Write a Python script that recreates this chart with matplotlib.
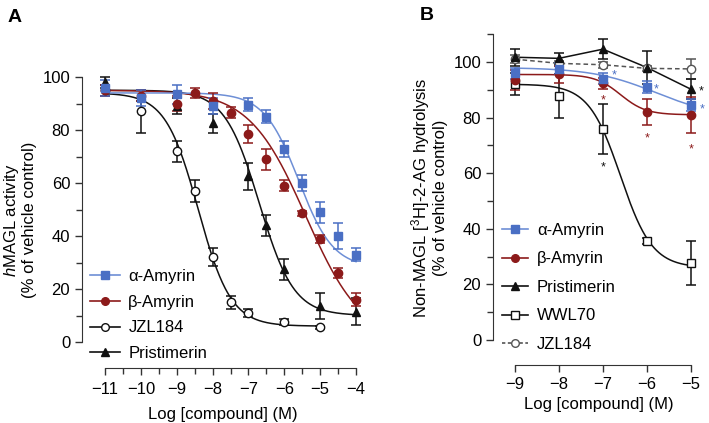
import numpy as np
import matplotlib
matplotlib.use("Agg")
import matplotlib.pyplot as plt
from matplotlib.lines import Line2D

plt.rcParams["font.family"] = ["Liberation Sans", "DejaVu Sans"]
plt.rcParams["mathtext.fontset"] = "custom"
plt.rcParams["mathtext.rm"] = "Liberation Sans"
plt.rcParams["mathtext.it"] = "Liberation Sans:italic"

BLUE = "#4a6fc4"
BLUE_LINE = "#6e8fd6"
RED = "#8c1a1a"
BLACK = "#111111"
GREY = "#555555"
AXIS = "#333333"
FS = 12

# ---- Panel A: hMAGL activity ----
a_alpha_x = [-11, -10, -9, -8, -7, -6.5, -6, -5.5, -5, -4.5, -4]
a_alpha_y = [96, 92, 93.5, 89, 89.5, 85, 73, 60, 49, 40, 33]
a_alpha_err = [3, 3, 3.5, 3, 2.5, 2.5, 3, 3, 4, 5, 2.5]

a_beta_x = [-11, -10, -9, -8.5, -8, -7.5, -7, -6.5, -6, -5.5, -5, -4.5, -4]
a_beta_y = [95, 93, 90, 94, 91, 86.5, 78.5, 69, 59, 48.5, 39, 26, 16]
a_beta_err = [2, 2, 3, 2, 3, 2, 3.5, 4, 2, 1, 1.5, 2, 2.5]

a_jzl_x = [-11, -10, -9, -8.5, -8, -7.5, -7, -6, -5]
a_jzl_y = [95, 87, 72, 57, 32, 15, 11, 7.5, 5.5]
a_jzl_err = [2, 8, 4, 4, 3.5, 2.5, 1.5, 1, 0.5]

a_pri_x = [-11, -10, -9, -8, -7, -6.5, -6, -5, -4]
a_pri_y = [98, 93, 89, 82.5, 62.5, 44, 27.5, 13.5, 11.5]
a_pri_err = [2, 2, 3, 3.5, 5, 4, 4, 5, 5]

# fitted curve parameters: top, bottom, logIC50, hill, x-range
a_alpha_fit = (94, 28, -5.6, 0.9, -11, -4)
a_beta_fit = (95, 0, -5.4, 0.55, -11, -4)
a_jzl_fit = (94, 6, -8.4, 0.95, -11, -5)
a_pri_fit = (95, 10, -6.7, 0.9, -11, -4)

# ---- Panel B: non-MAGL hydrolysis ----
b_x = [-9, -8, -7, -6, -5]
b_alpha_y = [96, 97.5, 94, 91, 84.5]
b_alpha_err = [2, 2, 2, 2, 2]
b_beta_y = [93.5, 95.5, 92.3, 82, 81]
b_beta_err = [3.5, 3, 2, 4.5, 6.5]
b_pri_y = [101.7, 101.3, 104.6, 98, 90.2]
b_pri_err = [3, 2, 3.5, 6, 3.5]
b_jzl_y = [101, 99.5, 99, 97.7, 97.5]
b_jzl_err = [1.5, 1, 1, 1, 3.5]
b_wwl_y = [92, 87.8, 75.8, 35.7, 27.6]
b_wwl_err = [4, 8, 9, 1, 8]

b_alpha_fit = (98, 80, -5.8, 0.6, -9, -5)
b_beta_fit = (95.5, 81, -6.6, 1.5, -9, -5)
b_wwl_fit = (92, 26, -6.6, 1.2, -9, -5)

# significance stars: x, y, colour
b_stars_x = [-6.75, -5.78, -4.74, -7, -6, -5, -7, -4.77]
b_stars_y = [95, 90, 83, 86, 72.5, 68.5, 62, 89.5]
b_stars_c = [BLUE, BLUE, BLUE, RED, RED, RED, BLACK, BLACK]


def curve(p):
    top, bottom, logic50, hill, x0, x1 = p
    xs = np.linspace(x0, x1, 300)
    return xs, bottom + (top - bottom) / (1 + 10 ** (hill * (xs - logic50)))


def series(ax, x, y, err, color, marker, mfc, ms=6, ls="none"):
    ax.errorbar(x, y, yerr=err, fmt=marker, color=color, mfc=mfc, mec=color,
                ms=ms, ecolor=color, elinewidth=1.1, capsize=3.5, capthick=1.1,
                ls=ls, lw=1.1, zorder=3)


def handle(color, marker, mfc, mec, ls="-"):
    return Line2D([], [], color=color, marker=marker, mfc=mfc, mec=mec,
                  ms=5.5, lw=1.2, ls=ls)


fig = plt.figure(figsize=(7.09, 4.23), dpi=100)

# Panel A
axA = fig.add_axes([0.1157, 0.130, 0.3963, 0.7005])
for fit, col in [(a_jzl_fit, BLACK), (a_pri_fit, BLACK), (a_beta_fit, RED), (a_alpha_fit, BLUE_LINE)]:
    xs, ys = curve(fit)
    axA.plot(xs, ys, color=col, lw=1.1, zorder=2)
series(axA, a_jzl_x, a_jzl_y, a_jzl_err, BLACK, "o", "white")
series(axA, a_pri_x, a_pri_y, a_pri_err, BLACK, "^", BLACK)
series(axA, a_beta_x, a_beta_y, a_beta_err, RED, "o", RED)
series(axA, a_alpha_x, a_alpha_y, a_alpha_err, BLUE, "s", BLUE)

axA.set_xlim(-11.641, -3.805)
axA.set_ylim(-9.81, 102)
axA.spines["left"].set_bounds(0, 100)
axA.spines["bottom"].set_bounds(-11, -4)
axA.set_xticks(np.arange(-11, -3, 1))
axA.set_xticklabels(["\u2212%d" % abs(v) for v in range(-11, -3)])
axA.set_xticks(np.arange(-10.5, -4, 1), minor=True)
axA.set_yticks([0, 20, 40, 60, 80, 100])
axA.set_yticks([10, 30, 50, 70, 90], minor=True)
axA.set_xlabel("Log [compound] (M)", fontsize=FS, labelpad=7)
axA.set_ylabel("$\\it{h}$MAGL activity\n(% of vehicle control)", fontsize=FS,
               labelpad=4, linespacing=1.05)
axA.tick_params(axis="x", which="major", pad=5)

legA = [
    handle(BLUE_LINE, "s", BLUE, BLUE),
    handle(RED, "o", RED, RED),
    handle(BLACK, "o", "white", BLACK),
    handle(BLACK, "^", BLACK, BLACK),
]
axA.legend(legA, ["\u03b1-Amyrin", "\u03b2-Amyrin", "JZL184", "Pristimerin"],
           loc="upper left", bbox_to_anchor=(90 / 709, 1 - 269 / 423),
           bbox_transform=fig.transFigure, frameon=False, fontsize=FS,
           handlelength=1.8, handletextpad=0.5, labelspacing=0.64,
           borderpad=0, borderaxespad=0)

# Panel B
axB = fig.add_axes([0.6953, 0.1371, 0.2990, 0.7920])
for fit, col in [(b_wwl_fit, BLACK), (b_beta_fit, RED), (b_alpha_fit, BLUE_LINE)]:
    xs, ys = curve(fit)
    axB.plot(xs, ys, color=col, lw=1.1, zorder=2)
axB.plot(b_x, b_jzl_y, color=GREY, lw=1.1, ls=(0, (3, 2)), zorder=2)
axB.plot(b_x, b_pri_y, color=BLACK, lw=1.1, zorder=2)
series(axB, b_x, b_wwl_y, b_wwl_err, BLACK, "s", "white")
series(axB, b_x, b_jzl_y, b_jzl_err, GREY, "o", "white")
series(axB, b_x, b_pri_y, b_pri_err, BLACK, "^", BLACK)
series(axB, b_x, b_beta_y, b_beta_err, RED, "o", RED)
series(axB, b_x, b_alpha_y, b_alpha_err, BLUE, "s", BLUE)
for sx, sy, sc in zip(b_stars_x, b_stars_y, b_stars_c):
    axB.text(sx, sy, "*", color=sc, fontsize=9, ha="center", va="center")

axB.set_xlim(-9.5, -4.68)
axB.set_ylim(-9.0, 111.5)
axB.spines["left"].set_bounds(0, 110)
axB.spines["bottom"].set_bounds(-9, -5)
axB.set_xticks(b_x)
axB.set_xticklabels(["\u2212%d" % abs(v) for v in b_x])
axB.set_yticks([0, 20, 40, 60, 80, 100])
axB.set_yticks([10, 30, 50, 70, 90, 110], minor=True)
axB.set_xlabel("Log [compound] (M)", fontsize=FS, labelpad=4)
axB.set_ylabel("Non-MAGL [$^{3}$H]-2-AG hydrolysis\n(% of vehicle control)",
               fontsize=FS, labelpad=4, linespacing=1.05)

legB = [
    handle(BLUE_LINE, "s", BLUE, BLUE),
    handle(RED, "o", RED, RED),
    handle(BLACK, "^", BLACK, BLACK),
    handle(BLACK, "s", "white", BLACK),
    handle(GREY, "o", "white", GREY, ls=(0, (2, 1.5))),
]
axB.legend(legB, ["\u03b1-Amyrin", "\u03b2-Amyrin", "Pristimerin", "WWL70", "JZL184"],
           loc="upper left", bbox_to_anchor=(502 / 709, 1 - 223 / 423),
           bbox_transform=fig.transFigure, frameon=False, fontsize=FS,
           handlelength=1.55, handletextpad=0.55, labelspacing=0.81,
           borderpad=0, borderaxespad=0)

for ax in (axA, axB):
    ax.spines["top"].set_visible(False)
    ax.spines["right"].set_visible(False)
    for side in ("left", "bottom"):
        ax.spines[side].set_color(AXIS)
    ax.tick_params(which="both", color=AXIS)
    ax.tick_params(which="major", direction="out", length=5, width=1, labelsize=FS)
    ax.tick_params(which="minor", direction="out", length=4, width=1)

fig.text(15 / 709, 1 - 17 / 423, "A", fontsize=14, fontweight="bold", ha="center", va="center")
fig.text(427 / 709, 1 - 15 / 423, "B", fontsize=14, fontweight="bold", ha="center", va="center")

fig.savefig("out.png", dpi=100)
